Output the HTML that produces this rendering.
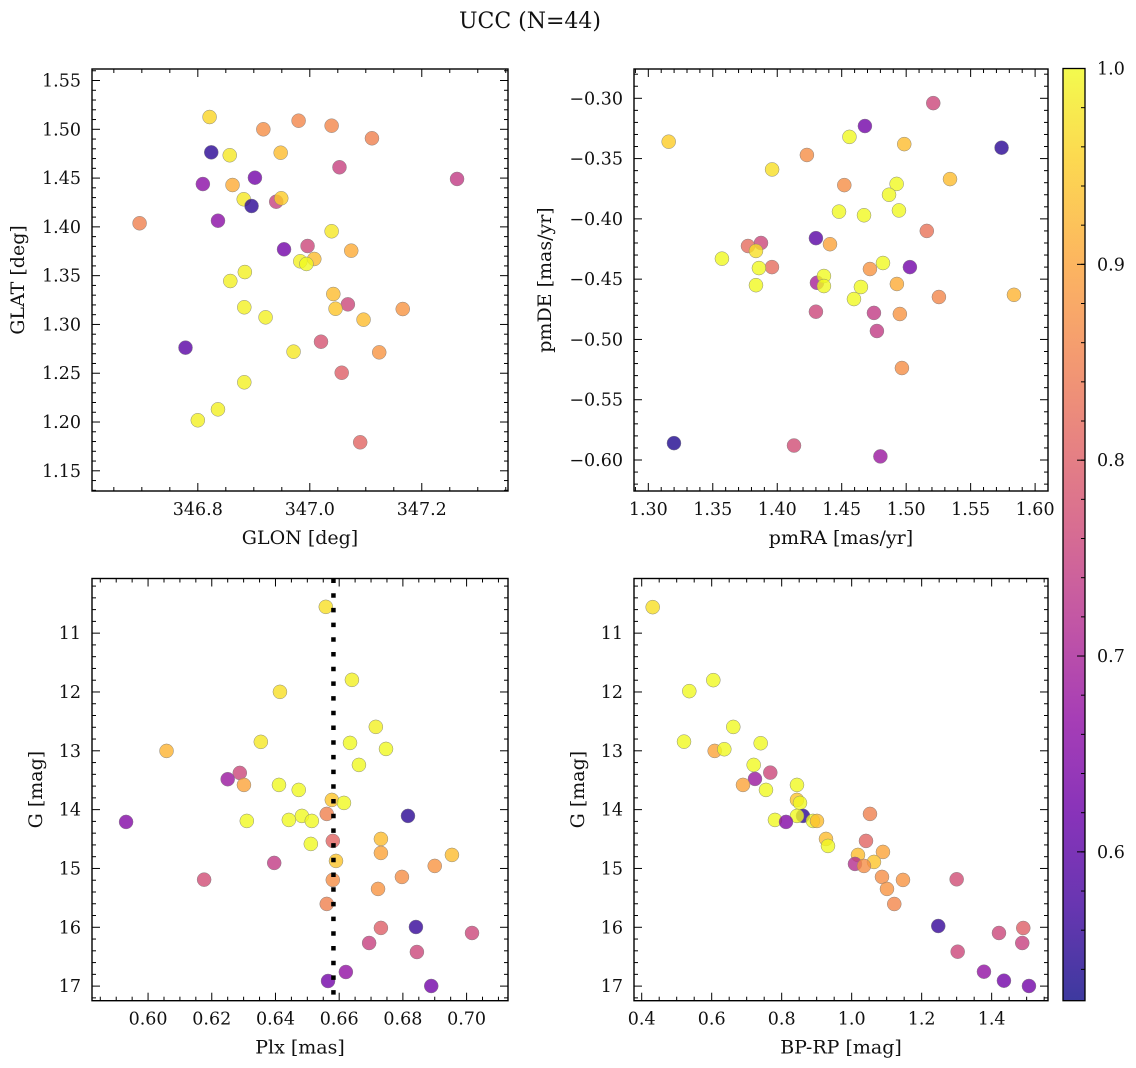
<!DOCTYPE html>
<html>
<head>
<meta charset="utf-8">
<style>
  html,body{margin:0;padding:0;background:#fff;}
  svg{display:block;}
  text{font-family:"DejaVu Serif","Liberation Serif",serif;fill:#111;}
</style>
</head>
<body>
<svg id="fig" xmlns="http://www.w3.org/2000/svg" width="1136" height="1068" viewBox="0 0 1136 1068">
  <rect x="0" y="0" width="1136" height="1068" fill="#fff"/>
  <text x="530" y="28" font-size="22" text-anchor="middle">UCC (N=44)</text>
</svg>
<script>
// ---------- Panel 1: GLON vs GLAT ----------
const glon = [346.821,346.917,346.980,347.039,347.111,346.824,346.857,346.948,347.053,346.809,346.862,346.902,347.263,346.882,346.896,346.940,346.949,346.696,346.836,347.039,346.954,346.996,347.074,346.983,347.008,346.994,346.884,346.858,347.042,347.068,347.046,346.883,346.921,347.096,347.166,346.778,346.971,347.020,347.124,347.057,346.883,346.836,346.800,347.090];
const glat = [1.5126,1.500,1.5088,1.5037,1.4908,1.4764,1.4734,1.476,1.4611,1.4439,1.4429,1.4504,1.4491,1.4283,1.4214,1.4258,1.4293,1.4037,1.4063,1.3955,1.377,1.3804,1.3756,1.3647,1.3671,1.362,1.3537,1.3445,1.3312,1.3206,1.3161,1.3176,1.3073,1.3049,1.3158,1.2762,1.2721,1.2823,1.2714,1.2505,1.2407,1.213,1.2018,1.1792];
const probA = [0.96,0.87,0.86,0.86,0.85,0.55,0.98,0.93,0.75,0.66,0.91,0.63,0.74,0.98,0.55,0.75,0.95,0.85,0.66,0.98,0.63,0.76,0.91,0.99,0.93,1.0,0.99,0.99,0.93,0.76,0.94,0.99,0.99,0.93,0.88,0.60,0.98,0.78,0.88,0.80,0.99,0.99,0.99,0.81];

// ---------- Panel 2: pmRA vs pmDE ----------
const pmra = [1.3158,1.468,1.456,1.521,1.423,1.396,1.4985,1.574,1.452,1.4926,1.534,1.4867,1.4944,1.4479,1.4673,1.516,1.430,1.4409,1.3773,1.3874,1.3835,1.3571,1.3959,1.3858,1.3835,1.430,1.4308,1.4362,1.4362,1.4719,1.482,1.5029,1.4649,1.4595,1.4928,1.5254,1.475,1.4951,1.4773,1.4967,1.3199,1.413,1.480,1.5836];
const pmde = [-0.336,-0.323,-0.332,-0.304,-0.347,-0.359,-0.338,-0.341,-0.372,-0.371,-0.367,-0.380,-0.393,-0.394,-0.397,-0.410,-0.416,-0.421,-0.4225,-0.420,-0.4266,-0.433,-0.440,-0.4408,-0.455,-0.477,-0.453,-0.4474,-0.4557,-0.4416,-0.4366,-0.440,-0.4565,-0.4665,-0.454,-0.4648,-0.478,-0.4789,-0.493,-0.5237,-0.586,-0.588,-0.597,-0.463];
const probB = [0.95,0.63,1.0,0.76,0.87,0.97,0.93,0.55,0.87,1.0,0.93,1.0,1.0,1.0,1.0,0.83,0.60,0.90,0.82,0.76,0.97,1.0,0.82,1.0,1.0,0.76,0.70,1.0,1.0,0.88,1.0,0.63,1.0,1.0,0.91,0.86,0.74,0.88,0.74,0.87,0.54,0.77,0.68,0.92];

// ---------- Panel 3: Plx vs G ----------
const plx = [0.6558,0.6640,0.6414,0.6715,0.6354,0.6634,0.6747,0.6662,0.6288,0.6250,0.6301,0.6411,0.6473,0.6577,0.6615,0.6561,0.6816,0.6310,0.6442,0.6483,0.6514,0.6580,0.6731,0.6511,0.6731,0.6954,0.6396,0.6590,0.6176,0.6900,0.6580,0.6797,0.6722,0.6561,0.6731,0.6841,0.7017,0.6694,0.6844,0.6621,0.6565,0.6889,0.6058,0.5931];
const gPlx = [10.553,11.794,11.998,12.593,12.848,12.866,12.968,13.240,13.376,13.483,13.580,13.580,13.665,13.835,13.886,14.073,14.107,14.192,14.175,14.107,14.192,14.532,14.498,14.583,14.736,14.770,14.906,14.872,15.190,14.957,15.195,15.144,15.348,15.603,16.011,15.995,16.097,16.267,16.420,16.760,16.913,16.998,13.002,14.209];
const probC = [0.97,0.99,0.97,0.99,0.98,1.0,1.0,1.0,0.76,0.68,0.90,1.0,1.0,0.94,1.0,0.85,0.55,1.0,1.0,1.0,1.0,0.81,0.93,1.0,0.90,0.93,0.74,0.94,0.77,0.88,0.87,0.87,0.88,0.85,0.80,0.56,0.76,0.75,0.76,0.67,0.63,0.63,0.92,0.65];
const plxMarker = [0.6582];

// ---------- Panel 4: BP-RP vs G ----------
const bprp = [0.4314,0.536,0.6046,0.6617,0.5209,0.6086,0.636,0.74,0.72,0.7674,0.7237,0.6894,0.7551,0.8437,0.8437,0.8523,0.8609,0.8437,0.7808,0.8123,0.8894,0.9009,0.9266,0.9323,1.0523,1.0409,1.0894,1.018,1.0637,1.0094,1.0351,1.0866,1.1466,1.1009,1.1217,1.30,1.2474,1.4209,1.4903,1.4874,1.3029,1.378,1.4351,1.5066];
const gCmd = [10.558,11.986,11.799,12.594,12.844,13.002,12.973,12.871,13.240,13.371,13.478,13.580,13.665,13.580,13.835,13.886,14.107,14.107,14.175,14.209,14.192,14.192,14.498,14.617,14.073,14.532,14.719,14.770,14.889,14.923,14.957,15.144,15.195,15.348,15.604,15.184,15.978,16.097,16.012,16.267,16.415,16.755,16.908,16.998];
const probD = [0.97,1.0,1.0,1.0,1.0,0.90,1.0,1.0,1.0,0.76,0.68,0.90,1.0,1.0,0.94,1.0,0.55,1.0,1.0,0.65,1.0,0.93,0.93,1.0,0.85,0.81,0.90,0.93,0.94,0.72,0.87,0.87,0.88,0.88,0.86,0.77,0.56,0.76,0.80,0.75,0.76,0.67,0.63,0.63];

// colorbar range and ticks
const cbarRange = [0.524, 1.0];
const cbarTicks = [0.6, 0.7, 0.8, 0.9, 1.0];

const NS = "http://www.w3.org/2000/svg";
const svg = document.getElementById('fig');

const PL = [[0,"#0d0887"],[0.1,"#41049d"],[0.2,"#6a00a8"],[0.3,"#8f0da4"],[0.4,"#b12a90"],[0.5,"#cc4778"],[0.6,"#e16462"],[0.7,"#f2844b"],[0.8,"#fca636"],[0.9,"#fcce25"],[1.0,"#f0f921"]];
function hex(h){return [parseInt(h.substr(1,2),16),parseInt(h.substr(3,2),16),parseInt(h.substr(5,2),16)];}
function plasma(t){
  t=Math.max(0,Math.min(1,t));
  for(let i=0;i<PL.length-1;i++){
    if(t<=PL[i+1][0]){
      const f=(t-PL[i][0])/(PL[i+1][0]-PL[i][0]);
      const a=hex(PL[i][1]),b=hex(PL[i+1][1]);
      return "rgb("+a.map((v,k)=>Math.round(v+(b[k]-v)*f)).join(",")+")";
    }
  }
  return PL[PL.length-1][1];
}
function cval(p){return plasma((p-cbarRange[0])/(cbarRange[1]-cbarRange[0]));}

function mk(tag, attrs, parent){
  const e=document.createElementNS(NS,tag);
  for(const k in attrs) e.setAttribute(k,attrs[k]);
  (parent||svg).appendChild(e);
  return e;
}
function fmt(v,d){const s=v.toFixed(d);return s.replace("-","\u2212");}

function drawPanel(cfg, xs, ys, ps, name){
  const g=mk('g',{});
  
  
  const sx=v=>cfg.x0+(v-cfg.xmin)/(cfg.xmax-cfg.xmin)*(cfg.x1-cfg.x0);
  const sy=cfg.invert
    ? v=>cfg.y0+(v-cfg.ymin)/(cfg.ymax-cfg.ymin)*(cfg.y1-cfg.y0)
    : v=>cfg.y1-(v-cfg.ymin)/(cfg.ymax-cfg.ymin)*(cfg.y1-cfg.y0);
  const pts=mk('g',{},g);
  
  
  for(let i=0;i<xs.length;i++){
    const c=mk('circle',{cx:sx(xs[i]).toFixed(2),cy:sy(ys[i]).toFixed(2),r:7,fill:cval(ps[i]),'fill-opacity':0.8,stroke:'#808080','stroke-width':0.5,'stroke-opacity':0.9},pts);
    
    
  }
  if(cfg.vline){
    for(const v of cfg.vline){
      const l=mk('line',{x1:sx(v),x2:sx(v),y1:cfg.y0,y2:cfg.y1,stroke:'#000','stroke-width':4.5,'stroke-dasharray':'4.5 10.2'},g);
      
      
    }
  }
  const tk=mk('g',{stroke:'#000','stroke-width':1},g);
  function ticks(min,max,minor,major,fn){
    const n0=Math.ceil(min/minor-1e-6), n1=Math.floor(max/minor+1e-6);
    for(let n=n0;n<=n1;n++){
      const v=n*minor;
      const isMaj=Math.abs(v/major-Math.round(v/major))<1e-4;
      fn(v,isMaj);
    }
  }
  ticks(cfg.xmin,cfg.xmax,cfg.xminor,cfg.xmajor,(v,M)=>{
    const x=sx(v),L=M?8:4;
    mk('line',{x1:x,x2:x,y1:cfg.y1,y2:cfg.y1-L},tk);
    mk('line',{x1:x,x2:x,y1:cfg.y0,y2:cfg.y0+L},tk);
    if(M){
      const t=mk('text',{x:x,y:cfg.y1+24,'font-size':17.5,'text-anchor':'middle',stroke:'none'},g);
      t.textContent=fmt(v,cfg.xdec);
      
      
    }
  });
  ticks(cfg.ymin,cfg.ymax,cfg.yminor,cfg.ymajor,(v,M)=>{
    const y=sy(v),L=M?8:4;
    mk('line',{x1:cfg.x0,x2:cfg.x0+L,y1:y,y2:y},tk);
    mk('line',{x1:cfg.x1,x2:cfg.x1-L,y1:y,y2:y},tk);
    if(M){
      const t=mk('text',{x:cfg.x0-11,y:y+6,'font-size':17.5,'text-anchor':'end',stroke:'none'},g);
      t.textContent=fmt(v,cfg.ydec);
      
      
    }
  });
  const fr=mk('rect',{x:cfg.x0,y:cfg.y0,width:cfg.x1-cfg.x0,height:cfg.y1-cfg.y0,fill:'none',stroke:'#000','stroke-width':1.4},g);
  
  
  const xl=mk('text',{x:(cfg.x0+cfg.x1)/2,y:cfg.y1+53,'font-size':19,'text-anchor':'middle'},g);
  xl.textContent=cfg.xlabel;
  
  
  const yc=(cfg.y0+cfg.y1)/2;
  const yl=mk('text',{x:cfg.ylx,y:yc,'font-size':19,'text-anchor':'middle',transform:'rotate(-90 '+cfg.ylx+' '+yc+')'},g);
  yl.textContent=cfg.ylabel;
  
  
}

drawPanel({x0:92,x1:508,y0:69,y1:491,xmin:346.611,xmax:347.354,ymin:1.1293,ymax:1.5618,
  xminor:0.05,xmajor:0.2,xdec:1,yminor:0.01,ymajor:0.05,ydec:2,xlabel:'GLON [deg]',ylabel:'GLAT [deg]',ylx:24},
  glon,glat,probA,'glon-glat-panel');
drawPanel({x0:634,x1:1048,y0:69,y1:491,xmin:1.2889,xmax:1.610,ymin:-0.6257,ymax:-0.2757,
  xminor:0.01,xmajor:0.05,xdec:2,yminor:0.01,ymajor:0.05,ydec:2,xlabel:'pmRA [mas/yr]',ylabel:'pmDE [mas/yr]',ylx:551},
  pmra,pmde,probB,'proper-motion-panel');
drawPanel({x0:92,x1:508,y0:578.5,y1:1000.7,xmin:0.5824,xmax:0.713,ymin:10.071,ymax:17.248,invert:true,
  xminor:0.005,xmajor:0.02,xdec:2,yminor:0.2,ymajor:1,ydec:0,xlabel:'Plx [mas]',ylabel:'G [mag]',ylx:42,vline:plxMarker},
  plx,gPlx,probC,'parallax-panel');
drawPanel({x0:634,x1:1048,y0:578.5,y1:1000.7,xmin:0.378,xmax:1.561,ymin:10.071,ymax:17.248,invert:true,
  xminor:0.05,xmajor:0.2,xdec:1,yminor:0.2,ymajor:1,ydec:0,xlabel:'BP-RP [mag]',ylabel:'G [mag]',ylx:584},
  bprp,gCmd,probD,'cmd-panel');

// ---------- Colorbar ----------
(function(){
  const x0=1063,x1=1085,y0=68.5,y1=1000.7;
  const cg=mk('g',{});
  
  
  const defs=mk('defs',{},cg);
  const lg=mk('linearGradient',{id:'cbg',x1:0,y1:1,x2:0,y2:0},defs);
  for(let i=0;i<=20;i++){
    const f=i/20;
    mk('stop',{offset:f,'stop-color':plasma(f)},lg);
  }
  mk('rect',{x:x0,y:y0,width:x1-x0,height:y1-y0,fill:'url(#cbg)','fill-opacity':0.8},cg);
  mk('rect',{x:x0,y:y0,width:x1-x0,height:y1-y0,fill:'none',stroke:'#000','stroke-width':1.3},cg);
  const sy=v=>y1-(v-cbarRange[0])/(cbarRange[1]-cbarRange[0])*(y1-y0);
  for(let n=Math.ceil(cbarRange[0]/0.02-1e-6);n*0.02<=cbarRange[1]+1e-6;n++){
    const y=sy(n*0.02);
    mk('line',{x1:x1,x2:x1-4,y1:y,y2:y,stroke:'#000','stroke-width':1},cg);
  }
  for(const v of cbarTicks){
    const y=sy(v);
    mk('line',{x1:x1,x2:x1-8,y1:y,y2:y,stroke:'#000','stroke-width':1},cg);
    const t=mk('text',{x:x1+12,y:y+6,'font-size':17.5},cg);
    t.textContent=v.toFixed(1);
    
    
  }
})();
</script>
</body>
</html>
